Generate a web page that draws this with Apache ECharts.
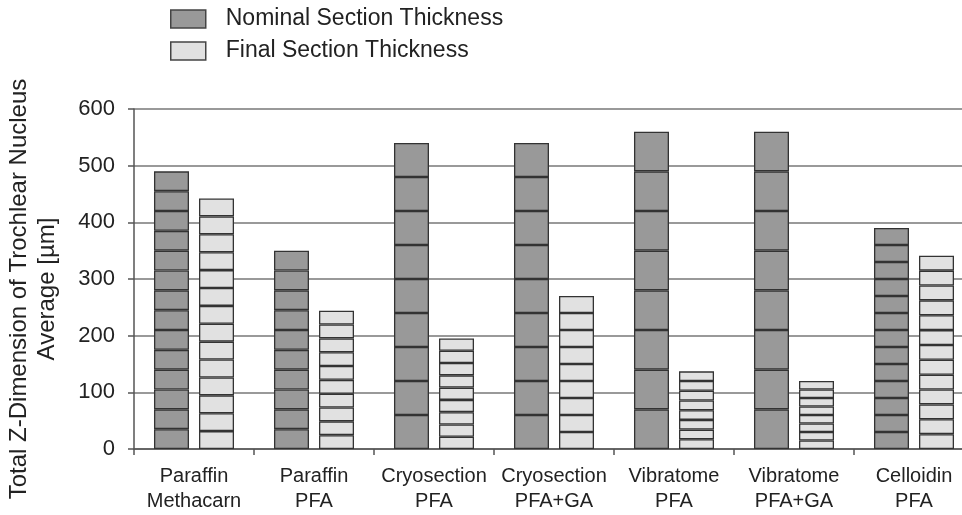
<!DOCTYPE html>
<html>
<head>
<meta charset="utf-8">
<script src="https://cdn.jsdelivr.net/npm/echarts@6/dist/echarts.min.js"></script>
<style>
html,body{margin:0;padding:0;background:#fff;}
#chart{width:962px;height:515px;}
</style>
</head>
<body>
<div id="chart"></div>
<script>
// Data
const categories = ['Paraffin\nMethacarn', 'Paraffin\nPFA', 'Cryosection\nPFA', 'Cryosection\nPFA+GA', 'Vibratome\nPFA', 'Vibratome\nPFA+GA', 'Celloidin\nPFA'];
const nominalTotals = [490, 350, 540, 540, 560, 560, 390];
const finalTotals = [442, 244, 195, 270, 137, 120, 341];
const sectionCounts = [14, 10, 9, 9, 8, 8, 13];
const yTicks = [0, 100, 200, 300, 400, 500, 600];

const NOM = 'Nominal Section Thickness';
const FIN = 'Final Section Thickness';
const maxSections = Math.max(...sectionCounts);

function buildSeries(name, totals, stack, color) {
  const out = [];
  for (let i = 0; i < maxSections; i++) {
    out.push({
      name: name,
      type: 'bar',
      stack: stack,
      barWidth: 35,
      barGap: '28.6%',
      itemStyle: { color: color, borderColor: '#333', borderWidth: 1.3 },
      emphasis: { disabled: true },
      data: totals.map((t, c) => i < sectionCounts[c] ? t / sectionCounts[c] : '-')
    });
  }
  return out;
}

const series = buildSeries(NOM, nominalTotals, 'nom', '#999999')
  .concat(buildSeries(FIN, finalTotals, 'fin', '#e1e1e1'));

const FONT = 'Liberation Sans, Arial, sans-serif';
const chart = echarts.init(document.getElementById('chart'));
chart.setOption({
  animation: false,
  backgroundColor: '#fff',
  textStyle: { fontFamily: FONT },
  legend: {
    data: [NOM, FIN],
    orient: 'vertical',
    left: 165,
    top: 2,
    itemWidth: 35,
    itemHeight: 18,
    itemGap: 8,
    icon: 'rect',
    itemStyle: { borderColor: '#444', borderWidth: 1.5 },
    textStyle: { fontSize: 23, color: '#222', lineHeight: 24, padding: [0, 0, 0, 15] }
  },
  graphic: [{
    type: 'text',
    x: 33,
    y: 289,
    rotation: Math.PI / 2,
    style: {
      text: 'Total Z-Dimension of Trochlear Nucleus\nAverage [µm]',
      font: '24px ' + FONT,
      fill: '#222',
      align: 'center',
      verticalAlign: 'middle',
      lineHeight: 28
    }
  }],
  grid: { left: 134, top: 109, height: 340, width: 840, outerBoundsMode: 'none' },
  xAxis: {
    type: 'category',
    data: categories,
    axisLine: { lineStyle: { color: '#555', width: 1.5 } },
    axisTick: { show: true, interval: 0, length: 6, lineStyle: { color: '#555', width: 1.5 } },
    axisLabel: { interval: 0, hideOverlap: false, fontSize: 20, color: '#222', lineHeight: 25, margin: 15 }
  },
  yAxis: {
    type: 'value',
    min: yTicks[0],
    max: yTicks[yTicks.length - 1],
    interval: yTicks[1] - yTicks[0],
    axisLine: { show: true, lineStyle: { color: '#555', width: 1.5 } },
    axisTick: { show: true, length: 6, lineStyle: { color: '#555', width: 1.5 } },
    axisLabel: { fontSize: 22, color: '#222', margin: 19 },
    splitLine: { lineStyle: { color: '#777', width: 1.5 } }
  },
  series: series
});
</script>
</body>
</html>
